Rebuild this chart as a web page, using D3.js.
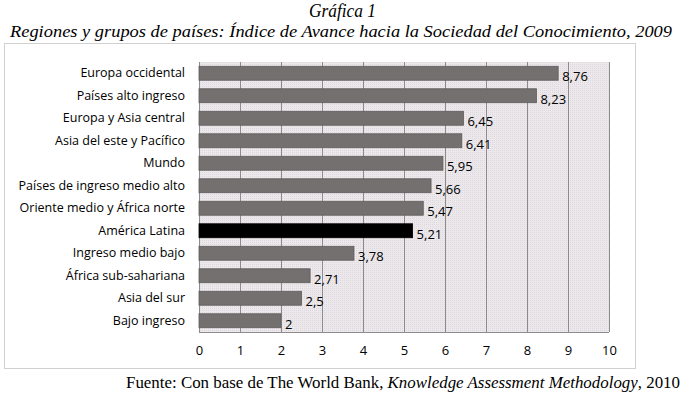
<!DOCTYPE html>
<html><head><meta charset="utf-8">
<script src="https://cdn.jsdelivr.net/npm/d3@7"></script>
<style>body{margin:0;background:#fff}</style>
</head><body>
<script>
const categories = ["Europa occidental","Países alto ingreso","Europa y Asia central","Asia del este y Pacífico","Mundo","Países de ingreso medio alto","Oriente medio y África norte","América Latina","Ingreso medio bajo","África sub-sahariana","Asia del sur","Bajo ingreso"];
const values = [8.76,8.23,6.45,6.41,5.95,5.66,5.47,5.21,3.78,2.71,2.5,2];
const highlight = "América Latina";
const xTicks = [0,1,2,3,4,5,6,7,8,9,10];
const title = "Gráfica 1";
const subtitle = "Regiones y grupos de países: Índice de Avance hacia la Sociedad del Conocimiento, 2009";

(function(){
const W=690,H=397;
const svg=d3.select("body").append("svg").attr("width",W).attr("height",H);
const defs=svg.append("defs");
const pat=defs.append("pattern").attr("id","dots").attr("width",2).attr("height",2).attr("patternUnits","userSpaceOnUse");
pat.append("rect").attr("width",2).attr("height",2).attr("fill","#ece8ec");
pat.append("rect").attr("width",1).attr("height",1).attr("fill","#dcd8dc");

svg.append("text").attr("x",309).attr("y",17).attr("textLength",67).attr("lengthAdjust","spacingAndGlyphs")
  .attr("font-family","Liberation Serif").attr("font-style","italic").attr("font-size",19).text(title);
svg.append("text").attr("x",10).attr("y",37).attr("textLength",662).attr("lengthAdjust","spacingAndGlyphs")
  .attr("font-family","Liberation Serif").attr("font-style","italic").attr("font-size",17.5).text(subtitle);

svg.append("rect").attr("x",4.5).attr("y",43.5).attr("width",631).attr("height",325)
  .attr("fill","none").attr("stroke","#a0a0a0").attr("stroke-dasharray","1,1");

const pL=199,pR=609,pT=62,pB=332;
const x=d3.scaleLinear().domain([0,10]).range([pL,pR]);
const y=d3.scaleBand().domain(categories).range([pT,pB]).paddingInner(0.38).paddingOuter(0.19);

svg.append("rect").attr("x",pL).attr("y",pT).attr("width",pR-pL).attr("height",pB-pT).attr("fill","url(#dots)");

svg.append("g").selectAll("line").data(xTicks).join("line")
  .attr("x1",d=>x(d)+0.5).attr("x2",d=>x(d)+0.5).attr("y1",pT).attr("y2",pB)
  .attr("stroke","#8c8c8c").attr("stroke-width",1);
svg.append("line").attr("x1",pL).attr("x2",pR).attr("y1",pB+0.5).attr("y2",pB+0.5).attr("stroke","#8c8c8c");

svg.append("g").selectAll("rect").data(categories).join("rect")
  .attr("x",x(0)).attr("y",d=>y(d)).attr("width",(d,i)=>x(values[i])-x(0)).attr("height",y.bandwidth())
  .attr("fill",d=>d===highlight?"#000":"#747070").attr("stroke",d=>d===highlight?"#000":"#5f5b5b").attr("stroke-width",0.8);

svg.append("g").selectAll("text").data(categories).join("text")
  .attr("x",(d,i)=>x(values[i])+4).attr("y",d=>y(d)+y.bandwidth()/2+8)
  .attr("font-family","Open Sans").attr("font-size",13).attr("fill","#000")
  .text((d,i)=>String(values[i]).replace(".",","));

const yAxis=svg.append("g").attr("transform",`translate(${pL},0)`).call(d3.axisLeft(y).tickSize(0).tickPadding(14));
yAxis.select(".domain").remove();
yAxis.selectAll("text").attr("font-family","Open Sans").attr("font-size",12.5).attr("fill","#000");

const xAxis=svg.append("g").attr("transform",`translate(0,${pB})`).call(d3.axisBottom(x).tickValues(xTicks).tickSize(0).tickPadding(14));
xAxis.select(".domain").remove();
xAxis.selectAll("text").attr("font-family","Open Sans").attr("font-size",13).attr("fill","#000");

const src=svg.append("text").attr("x",126).attr("y",388).attr("textLength",554).attr("lengthAdjust","spacingAndGlyphs")
  .attr("font-family","Liberation Serif").attr("font-size",16.5);
src.append("tspan").text("Fuente: Con base de The World Bank, ");
src.append("tspan").attr("font-style","italic").text("Knowledge Assessment Methodology");
src.append("tspan").text(", 2010");
})();
</script>
</body></html>
